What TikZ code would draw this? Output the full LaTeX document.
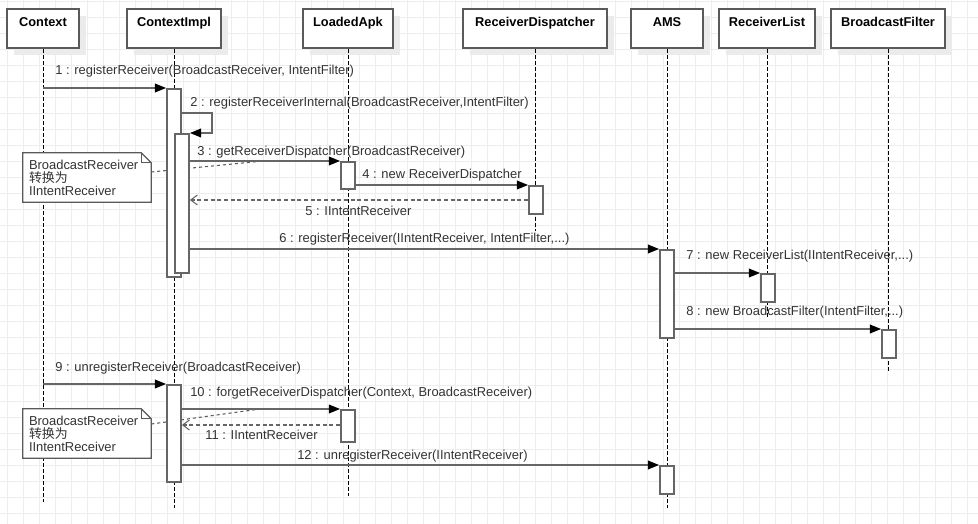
\documentclass[tikz,border=0pt]{standalone}
\usepackage{fontspec}
\setmainfont{Liberation Sans}
\newfontfamily\cjk{Noto Sans CJK SC}
\usetikzlibrary{arrows.meta,calc,shadows}
\definecolor{gridc}{HTML}{EDEDED}
\definecolor{linec}{HTML}{666666}
\definecolor{boxc}{HTML}{5A5A5A}
\definecolor{txtc}{HTML}{333333}
\definecolor{shadec}{HTML}{EBEBEB}

\begin{document}
\begin{tikzpicture}[
  x=0.75pt, y=-0.75pt,
  every node/.style={font=\fontsize{9.7}{9.75}\selectfont},
  head/.style={draw=boxc,line width=1.3pt,fill=white,minimum height=29.25pt,inner sep=0pt,
    general shadow={fill=shadec,shadow xshift=5.25pt,shadow yshift=-5.25pt}},
  headtxt/.style={anchor=north,inner sep=6.8pt,font=\fontsize{9.6}{9.75}\selectfont\bfseries},
  life/.style={black,line width=0.75pt,dash pattern=on 3pt off 1.5pt},
  act/.style={draw=linec,line width=1.3pt,fill=white,minimum width=10.5pt,inner sep=0pt,anchor=north},
  msg/.style={linec,line width=1.3pt,-{Triangle[length=8.5pt,width=6.5pt,color=black]}},
  ret/.style={linec,line width=1.1pt,dash pattern=on 3pt off 2pt,
    -{Straight Barb[length=5pt,width=7.5pt,line width=0.8pt]}},
  lbl/.style={anchor=base west,inner sep=0pt,text=txtc},
  notebox/.style={minimum width=96pt,minimum height=36.75pt,inner xsep=4.5pt,inner ysep=0pt,
    align=left,text width=87pt,text=txtc},
  notelink/.style={boxc,line width=0.8pt,dash pattern=on 2.25pt off 2.25pt},
  gridline/.style={gridc,line width=0.75pt}
]
\useasboundingbox (0,0) rectangle (978,524);
\fill[white] (0,0) rectangle (978,524);
% background grid
\foreach \gx in {7,23,...,967}
  \draw[gridline] (\gx,0) -- (\gx,524);
\foreach \gy in {1.5,17.5,...,513.5}
  \draw[gridline] (0,\gy) -- (978,\gy);

% participants and lifelines
\foreach \n/\x/\w/\t in {ctx/43/54/Context, impl/174/70.5/ContextImpl,
    apk/348/67.5/LoadedApk, rd/535/108/ReceiverDispatcher, ams/667/54/AMS,
    rl/767/72/ReceiverList, bf/888/85.5/BroadcastFilter} {
  \node[head,minimum width=\w pt] (\n) at (\x,28.5) {};
  \node[headtxt] (\n t) at (\n.north) {\t};
}
\foreach \n/\e in {ctx/501,impl/507,apk/495,rd/230,ams/507,rl/317,bf/370}
  \draw[life] (\n.south) -- ++(0,{\e-48});

% notes
\path node[notebox] (n1) at (87,177.5) {};
\draw[boxc,line width=0.9pt,fill=white] (n1.north west) -- ($(n1.north east)+(-10,0)$)
  -- ($(n1.north east)+(0,10)$) -- (n1.south east) -- (n1.south west) -- cycle;
\draw[boxc,line width=0.9pt] ($(n1.north east)+(-10,0)$) |- ($(n1.north east)+(0,10)$);
\node[notebox] (n1t) at (n1) {BroadcastReceiver\\{\cjk 转换为}\\IIntentReceiver};
\coordinate (k3) at (263,161);
\draw[notelink] ($(n1.east)+(0,-5.5)$) -- (k3);

\path node[notebox] (n2) at (87,433.5) {};
\draw[boxc,line width=0.9pt,fill=white] (n2.north west) -- ($(n2.north east)+(-10,0)$)
  -- ($(n2.north east)+(0,10)$) -- (n2.south east) -- (n2.south west) -- cycle;
\draw[boxc,line width=0.9pt] ($(n2.north east)+(-10,0)$) |- ($(n2.north east)+(0,10)$);
\node[notebox] (n2t) at (n2) {BroadcastReceiver\\{\cjk 转换为}\\IIntentReceiver};
\coordinate (k10) at (260,409);
\draw[notelink] ($(n2.east)+(0,-9.5)$) -- (k10);

% activations
\node[act,minimum height=141pt] (a1) at (174,88) {};
\node[act,minimum height=104.25pt] (a2) at (182,133) {};
\node[act,minimum height=20.25pt] (a3) at (348,161) {};
\node[act,minimum height=21pt] (a4) at (536,185) {};
\node[act,minimum height=66pt] (a5) at (667,249) {};
\node[act,minimum height=21pt] (a6) at (768,273) {};
\node[act,minimum height=21pt] (a7) at (889,329) {};
\node[act,minimum height=72.75pt] (a8) at (174,384) {};
\node[act,minimum height=24pt] (a9) at (348,409) {};
\node[act,minimum height=21pt] (a10) at (667,465) {};

% messages
\draw[msg] (ctx |- a1.north) -- (a1.north west);
\draw[msg] ($(a1.north east)+(0,25)$) -- ++(30,0) |- (a2.north east);
\draw[msg] ($(a2.north east)+(0,28)$) -- (a3.north west);
\draw[msg] ($(a3.north east)+(0,24)$) -- (a4.north west);
\coordinate (r5) at ($(a4.north west)+(0,15)$);
\draw[ret] (r5) -- (r5 -| a2.east);
\draw[msg] (a2.east |- a5.north) -- (a5.north west);
\draw[msg] (a5.east |- a6.north) -- (a6.north west);
\draw[msg] (a5.east |- a7.north) -- (a7.north west);
\draw[msg] (ctx |- a8.north) -- (a8.north west);
\draw[msg] (a8.east |- a9.north) -- (a9.north west);
\coordinate (r11) at ($(a9.north west)+(0,16)$);
\draw[ret] (r11) -- (r11 -| a8.east);
\draw[msg] (a8.east |- a10.north) -- (a10.north west);

% message labels
\node[lbl] (l1) at (55,75) {1 : registerReceiver(BroadcastReceiver, IntentFilter)};
\node[lbl] (l2) at (190,107) {2 : registerReceiverInternal(BroadcastReceiver,IntentFilter)};
\node[lbl] (l3) at (197,156) {3 : getReceiverDispatcher(BroadcastReceiver)};
\node[lbl] (l4) at (362,179) {4 : new ReceiverDispatcher};
\node[lbl] (l5) at (305,215) {5 : IIntentReceiver};
\node[lbl] (l6) at (279,243) {6 : registerReceiver(IIntentReceiver, IntentFilter,...)};
\node[lbl] (l7) at (686,259) {7 : new ReceiverList(IIntentReceiver,...)};
\node[lbl] (l8) at (686,315) {8 : new BroadcastFilter(IntentFilter,...)};
\node[lbl] (l9) at (55,371) {9 : unregisterReceiver(BroadcastReceiver)};
\node[lbl] (l10) at (190,396) {10 : forgetReceiverDispatcher(Context, BroadcastReceiver)};
\node[lbl] (l11) at (205,439) {11 : IIntentReceiver};
\node[lbl] (l12) at (297,459) {12 : unregisterReceiver(IIntentReceiver)};
\end{tikzpicture}
\end{document}
